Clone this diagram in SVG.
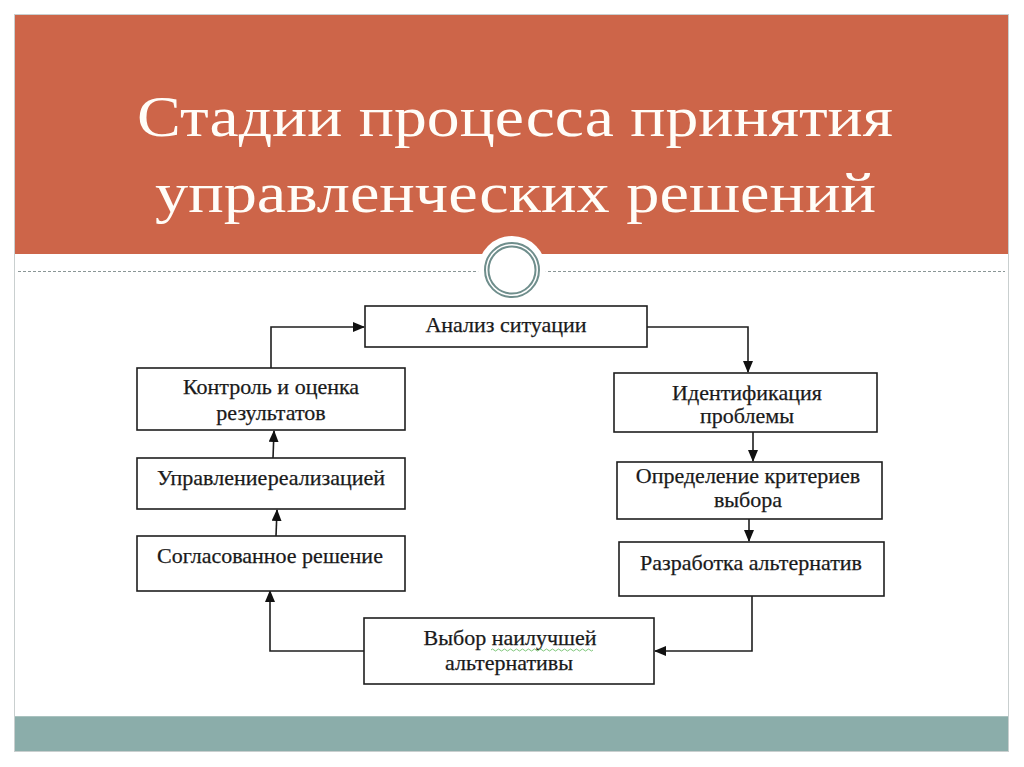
<svg xmlns="http://www.w3.org/2000/svg" width="1024" height="767" viewBox="0 0 1024 767">
<style>
.box{fill:#ffffff;stroke:#1e1e1e;stroke-width:1.6}
.lbl{font-family:"Liberation Serif","Times New Roman",serif;font-size:22px;fill:#1a1a1a;text-anchor:middle;stroke:#1a1a1a;stroke-width:0.25}
.title{font-family:"Liberation Serif","Times New Roman",serif;font-size:57px;fill:#fffdf8;text-anchor:middle}
.conn{fill:none;stroke:#1e1e1e;stroke-width:1.6}
</style>
<defs>
<marker id="arr" markerUnits="userSpaceOnUse" markerWidth="12" markerHeight="10" viewBox="0 0 12 10" refX="11" refY="5" orient="auto">
<path d="M0,0 L12,5 L0,10 Z" fill="#111"/>
</marker>
</defs>
<rect x="0" y="0" width="1024" height="767" fill="#ffffff"/>
<g id="slide">
<rect x="14.5" y="14.5" width="994" height="737" fill="#ffffff" stroke="#c9cfcf" stroke-width="1"/>
<rect x="15" y="15" width="993" height="239" fill="#cd6549"/>
<rect x="15" y="716" width="993" height="35" fill="#8badaa"/>
<line x1="15" y1="716.5" x2="1008" y2="716.5" stroke="#a9c2bf" stroke-width="1"/>
<line x1="18" y1="271.5" x2="1005" y2="271.5" stroke="#8a9696" stroke-width="1" stroke-dasharray="3 2"/>
<circle cx="512" cy="270" r="34" fill="#ffffff"/>
<circle cx="512" cy="270" r="27" fill="none" stroke="#6f8e8c" stroke-width="2"/>
<circle cx="512" cy="270" r="23.5" fill="none" stroke="#6f8e8c" stroke-width="2"/>
</g>
<g id="title">
<text class="title" x="515" y="136" textLength="756" lengthAdjust="spacingAndGlyphs">Стадии процесса принятия</text>
<text class="title" x="515.5" y="212" textLength="721" lengthAdjust="spacingAndGlyphs">управленческих решений</text>
</g>
<g id="connectors">
<path class="conn" d="M271 368 V327 H364" marker-end="url(#arr)"/>
<path class="conn" d="M647 327 H748 V372" marker-end="url(#arr)"/>
<path class="conn" d="M753 432 V461" marker-end="url(#arr)"/>
<path class="conn" d="M749 519 V541" marker-end="url(#arr)"/>
<path class="conn" d="M752 596 V651 H655" marker-end="url(#arr)"/>
<path class="conn" d="M364 651 H270 V591" marker-end="url(#arr)"/>
<path class="conn" d="M276 536 L277 510" marker-end="url(#arr)"/>
<path class="conn" d="M273 458 L274 431" marker-end="url(#arr)"/>
</g>
<g id="n-analysis">
<rect class="box" x="365" y="306" width="282" height="41"/>
<text class="lbl" x="506" y="332">Анализ ситуации</text>
</g>
<g id="n-identification">
<rect class="box" x="614" y="373" width="263" height="59"/>
<text class="lbl" x="747" y="400">Идентификация</text>
<text class="lbl" x="747" y="423">проблемы</text>
</g>
<g id="n-criteria">
<rect class="box" x="617" y="462" width="265" height="57"/>
<text class="lbl" x="748" y="483">Определение критериев</text>
<text class="lbl" x="748" y="507">выбора</text>
</g>
<g id="n-alternatives">
<rect class="box" x="619" y="542" width="265" height="54"/>
<text class="lbl" x="751" y="570">Разработка альтернатив</text>
</g>
<g id="n-choice">
<rect class="box" x="364" y="618" width="290" height="66"/>
<text class="lbl" x="510" y="645">Выбор наилучшей</text>
<text class="lbl" x="509" y="670">альтернативы</text>
<path d="M491 650 q1.5 -2 3 0 t3 0 t3 0 t3 0 t3 0 t3 0 t3 0 t3 0 t3 0 t3 0 t3 0 t3 0 t3 0 t3 0 t3 0 t3 0 t3 0 t3 0 t3 0 t3 0 t3 0 t3 0 t3 0 t3 0 t3 0 t3 0 t3 0 t3 0 t3 0 t3 0 t3 0 t3 0 t3 0 t3 0" fill="none" stroke="#6fbf6a" stroke-width="0.9"/>
</g>
<g id="n-agreed">
<rect class="box" x="137" y="536" width="268" height="55"/>
<text class="lbl" x="270" y="563">Согласованное решение</text>
</g>
<g id="n-implementation">
<rect class="box" x="137" y="458" width="268" height="51"/>
<text class="lbl" x="271" y="485" word-spacing="-5">Управление реализацией</text>
</g>
<g id="n-control">
<rect class="box" x="137" y="368" width="268" height="62"/>
<text class="lbl" x="271" y="394">Контроль и оценка</text>
<text class="lbl" x="271" y="420">результатов</text>
</g>
</svg>
